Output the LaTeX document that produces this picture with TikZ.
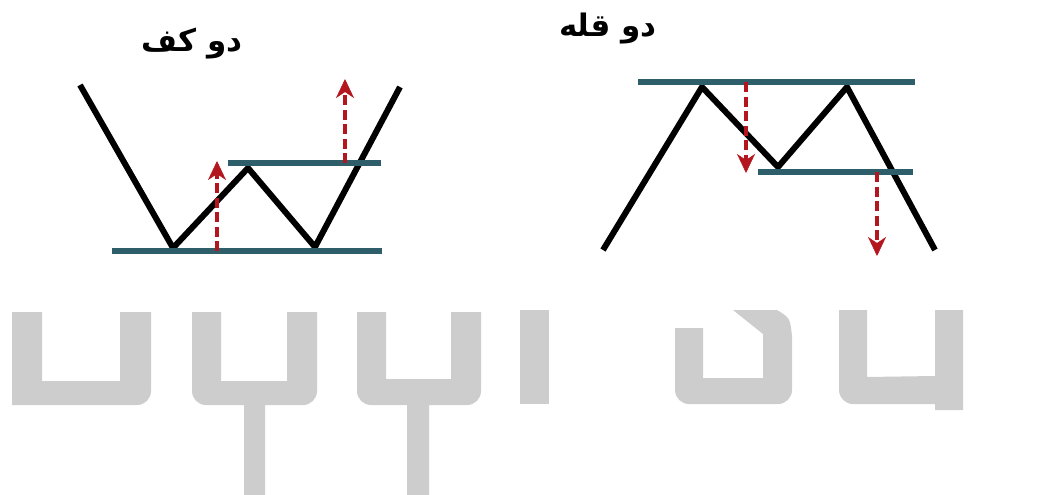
\documentclass[tikz,border=0pt]{standalone}
\usepackage{fontspec}
\usepackage{xcolor}
\usetikzlibrary{arrows.meta}
\newfontfamily\arabicfont[Script=Arabic]{DejaVu Sans}
\TeXXeTstate=1
\definecolor{lvl}{HTML}{2E5E69}
\definecolor{brk}{HTML}{B3161E}
\definecolor{wm}{HTML}{CDCDCD}

\begin{document}
\begin{tikzpicture}[x=1pt, y=-1pt,
			price/.style={line width=6pt, black},
			level/.style={line width=6pt, lvl},
			brkarr/.style={line width=4.5pt, brk, dash pattern=on 10pt off 4.5pt,
							-{Stealth[width=18pt, length=19pt, inset=6pt, line width=0.5pt, fill=brk]}},
			title/.style={font=\arabicfont\bfseries\fontsize{31}{36}\selectfont}]

		\useasboundingbox (0,0) rectangle (1055,495);

		% watermark
		\begin{scope}[wm]
			\fill (12,312) -- (42,312) -- (42,381) -- (120,381) -- (120,312) -- (151,312)
				[rounded corners=14pt] -- (151,405) [sharp corners] -- (12,405) -- cycle;
			\fill (192,312) -- (221,312) -- (221,381) -- (287,381) -- (287,312) -- (317,312)
				[rounded corners=14pt] -- (317,405) [sharp corners] -- (265,405) -- (265,495)
				-- (244,495) -- (244,405) [rounded corners=14pt] -- (192,405) [sharp corners] -- cycle;
			\fill (357,312) -- (386,312) -- (386,379) -- (451,379) -- (451,312) -- (481,312)
				[rounded corners=14pt] -- (481,405) [sharp corners] -- (429,405) -- (429,495)
				-- (407,495) -- (407,405) [rounded corners=14pt] -- (357,405) [sharp corners] -- cycle;
			\fill (520,310) rectangle (549,404);
			\fill (675,328) -- (703,328) -- (703,378) -- (763,378) -- (763,334) -- (733,310)
				-- (777,310) .. controls (790,318) .. (792,336)
				[rounded corners=14pt] -- (792,404) -- (675,404) [sharp corners] -- cycle;
			\fill (839,310) -- (867,310) -- (867,377) -- (935,376) -- (935,310) -- (963,310)
				-- (963,410) -- (935,410) -- (935,404) [rounded corners=14pt] -- (839,404)
				[sharp corners] -- cycle;
		\end{scope}

		% double bottom
		\begin{scope}
			\coordinate (s) at (80,85);
			\coordinate (b1) at (173,248);
			\coordinate (p) at (248,168);
			\coordinate (b2) at (315,247);
			\coordinate (e) at (400,87);
			\draw[price] (s) -- (b1) -- (p) -- (b2) -- (e);
			\coordinate (sl) at (112,251);
			\coordinate (sr) at (382,251);
			\coordinate (rl) at (228,163);
			\coordinate (rr) at (381,163);
			\draw[level] (sl) -- (sr);
			\draw[level] (rl) -- (rr);
			\coordinate (u1) at (217,251);
			\coordinate (u1t) at (217,161);
			\coordinate (u2) at (345,163);
			\coordinate (u2t) at (345,79);
			\draw[brkarr] (u1) -- (u1t);
			\draw[brkarr] (u2) -- (u2t);
			\node[title] (tb) at (192,44) {\beginR دو کف\endR};
		\end{scope}

		% double top
		\begin{scope}
			\coordinate (s) at (603,250);
			\coordinate (t1) at (702,87);
			\coordinate (v) at (778,167);
			\coordinate (t2) at (847,87);
			\coordinate (e) at (935,250);
			\draw[price] (s) -- (t1) -- (v) -- (t2) -- (e);
			\coordinate (rl) at (638,82);
			\coordinate (rr) at (915,82);
			\coordinate (sl) at (758,172);
			\coordinate (sr) at (913,172);
			\draw[level] (rl) -- (rr);
			\draw[level] (sl) -- (sr);
			\coordinate (d1) at (746,82);
			\coordinate (d1t) at (746,173);
			\coordinate (d2) at (877,172);
			\coordinate (d2t) at (877,256);
			\draw[brkarr] (d1) -- (d1t);
			\draw[brkarr] (d2) -- (d2t);
			\node[title] (tt) at (608,29) {\beginR دو قله\endR};
		\end{scope}
	\end{tikzpicture}
\end{document}
